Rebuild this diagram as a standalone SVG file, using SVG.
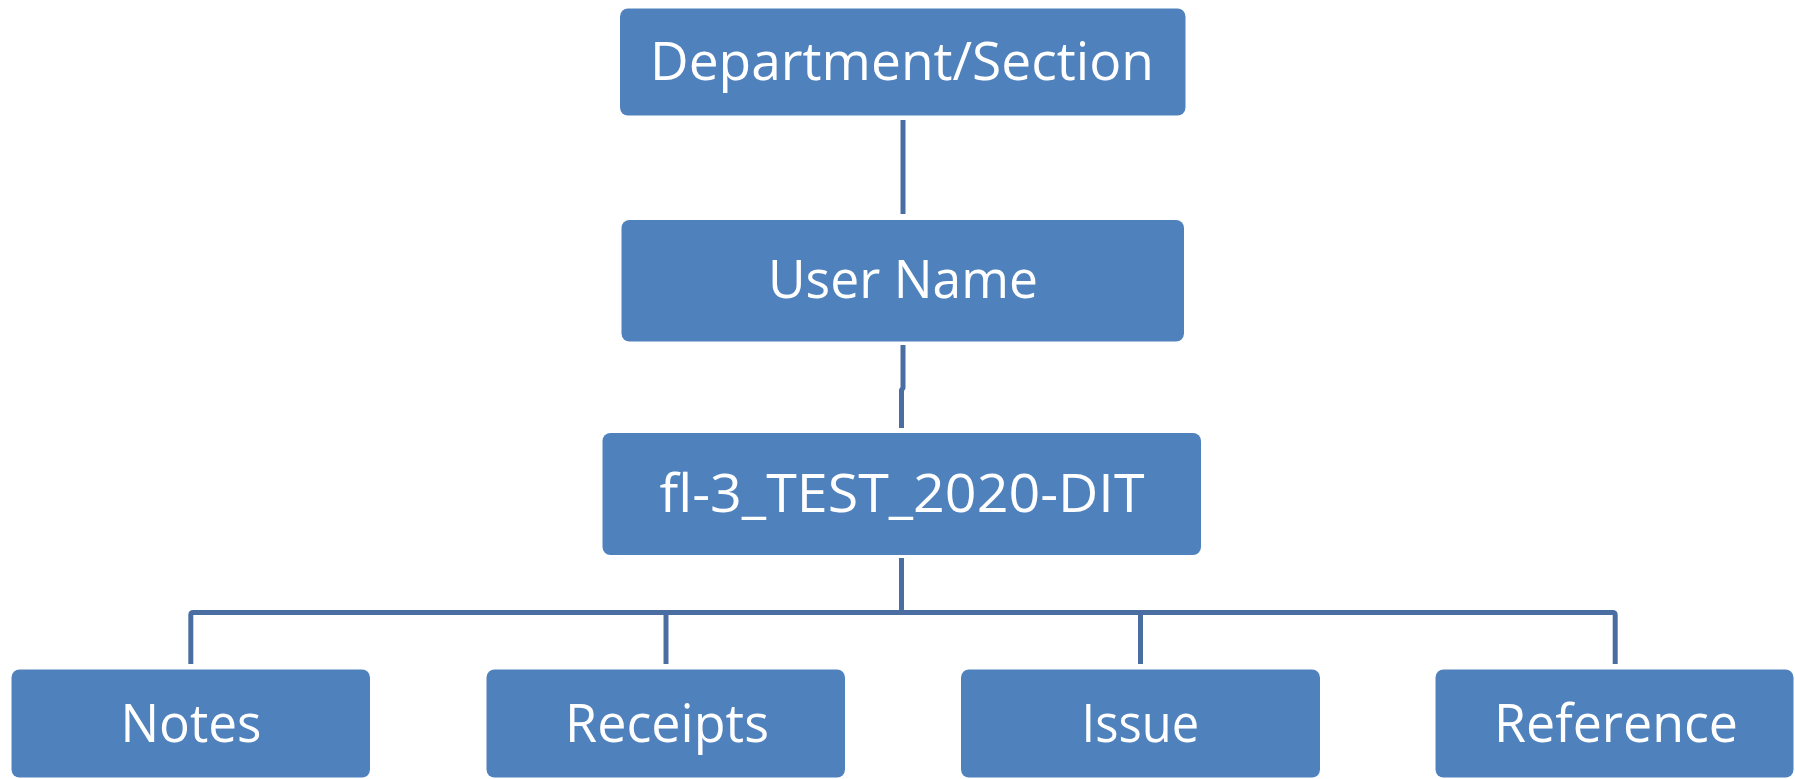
<svg xmlns="http://www.w3.org/2000/svg" width="1795" height="779" viewBox="0 0 1795 779">
<style>
.box{fill:#4F81BD;}
.lbl{font-family:"Open Sans","Liberation Sans",sans-serif;font-size:53px;fill:#FFFFFF;text-anchor:middle;}
.conn{fill:none;stroke:#4A6EA2;stroke-width:5;stroke-linejoin:round;}
</style>
<rect width="1795" height="779" fill="#FFFFFF"/>
<g id="connectors">
<path class="conn" d="M903 120 V214"/>
<path class="conn" d="M903 345 V388 L901.5 390 V428"/>
<path class="conn" d="M901.5 558 V612"/>
<path class="conn" d="M190.8 664 V615 Q190.8 612.5 193.3 612.5 H1612.5 Q1615.2 612.5 1615.2 615 V664"/>
<path class="conn" d="M666 612 V664"/>
<path class="conn" d="M1140.5 612 V664"/>
</g>
<g id="node-department">
<rect class="box" x="620" y="8.5" width="565.5" height="107" rx="8"/>
<text class="lbl" x="902" y="79.5" textLength="504" lengthAdjust="spacingAndGlyphs">Department/Section</text>
</g>
<g id="node-username">
<rect class="box" x="621.5" y="220" width="562.5" height="121.5" rx="8"/>
<text class="lbl" x="903" y="297.7" textLength="270" lengthAdjust="spacingAndGlyphs">User Name</text>
</g>
<g id="node-folder">
<rect class="box" x="602.5" y="433" width="598.5" height="122" rx="8"/>
<text class="lbl" x="902" y="511.7" textLength="485" lengthAdjust="spacingAndGlyphs">fl-3_TEST_2020-DIT</text>
</g>
<g id="node-notes">
<rect class="box" x="11.5" y="669.5" width="358.5" height="108" rx="8"/>
<text class="lbl" x="191" y="742" textLength="141" lengthAdjust="spacingAndGlyphs">Notes</text>
</g>
<g id="node-receipts">
<rect class="box" x="486.5" y="669.5" width="358.5" height="108" rx="8"/>
<text class="lbl" x="667" y="742" textLength="204" lengthAdjust="spacingAndGlyphs">Receipts</text>
</g>
<g id="node-issue">
<rect class="box" x="961" y="669.5" width="359" height="108" rx="8"/>
<text class="lbl" x="1140.3" y="742" textLength="117.5" lengthAdjust="spacingAndGlyphs">Issue</text>
</g>
<g id="node-reference">
<rect class="box" x="1435.5" y="669.5" width="358" height="108" rx="8"/>
<text class="lbl" x="1616" y="742" textLength="244" lengthAdjust="spacingAndGlyphs">Reference</text>
</g>
</svg>
